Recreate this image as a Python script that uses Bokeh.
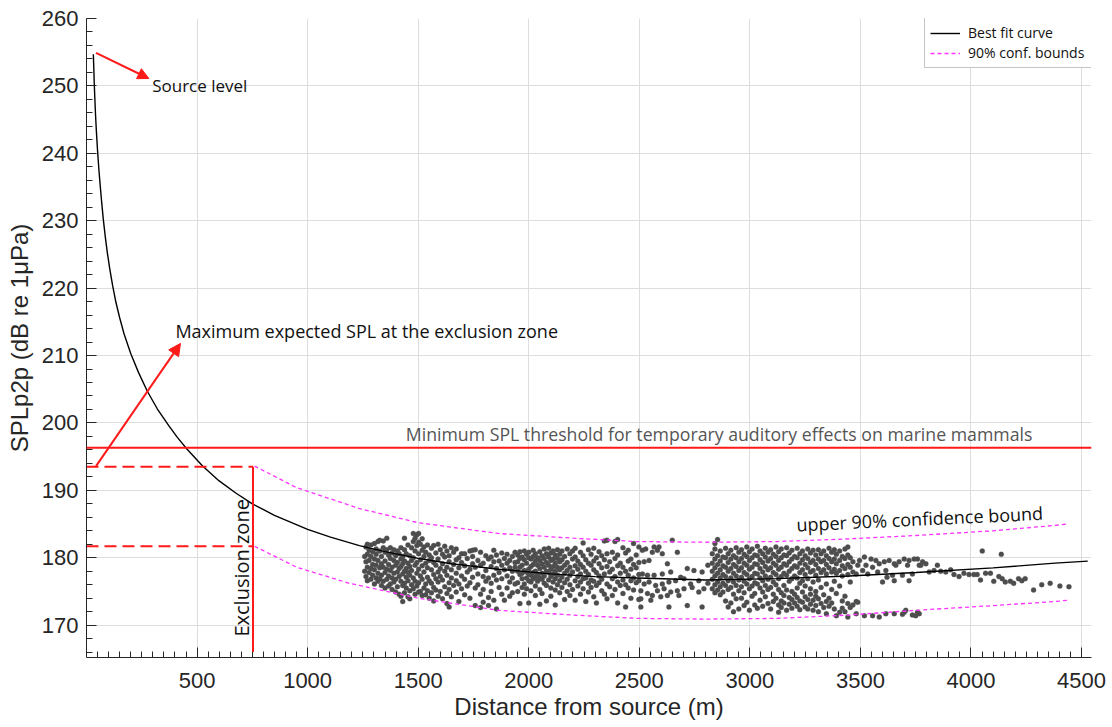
from bokeh.plotting import figure
from bokeh.models import Range1d, FixedTicker, Label, Arrow, NormalHead, Span, Legend, LegendItem
from bokeh.embed import file_html
from bokeh.resources import INLINE

# ---------------- data ----------------
fit_x = [31, 33, 35, 38, 41, 45, 50, 56, 62, 69, 76, 85, 94, 105, 118, 133, 150, 170, 200, 235,
         275, 320, 372, 410, 455, 525, 600, 675, 750, 850, 1000, 1100, 1234, 1350, 1500, 1650,
         1863, 2100, 2300, 2492, 2800, 3121, 3450, 3751, 4100, 4380, 4528]
fit_y = [254.7, 252.6, 250.4, 247.9, 245.6, 243.1, 240.4, 237.6, 235.2, 232.6, 230.2, 227.6,
         225.3, 222.9, 220.4, 217.9, 215.6, 213.2, 210.3, 207.5, 204.7, 202.1, 199.6, 197.9,
         196.1, 193.6, 191.4, 189.6, 188.0, 186.3, 184.2, 183.1, 181.8, 180.9, 179.9, 179.1,
         178.3, 177.6, 177.2, 177.0, 176.7, 176.9, 177.3, 177.8, 178.5, 179.2, 179.5]

bound_x = [760, 950, 1189, 1234, 1500, 1863, 2200, 2492, 2800, 3121, 3450, 3751, 4100, 4380, 4437]
upper_y = [193.6, 190.4, 187.8, 187.3, 185.2, 183.6, 182.9, 182.4, 182.3, 182.4, 182.8, 183.3,
           184.0, 184.8, 185.0]
lower_y = [181.7, 178.6, 176.2, 175.9, 174.0, 172.2, 171.5, 171.0, 170.9, 171.0, 171.5, 172.2,
           172.9, 173.5, 173.7]

# measured SPL points, grouped by distance (m): (distance, [SPL values])
scatter_columns = [
    (1258, [180.2, 178.0]),
    (1264, [181.6, 179.4, 177.2]),
    (1270, [182.0, 180.5, 178.6, 176.6]),
    (1278, [181.1, 179.6, 177.8]),
    (1286, [181.9, 180.2, 178.4, 176.8]),
    (1294, [180.9, 179.0, 177.4]),
    (1302, [182.1, 179.8, 178.2, 176.1]),
    (1310, [181.3, 180.5, 178.9, 177.0]),
    (1318, [182.4, 179.6, 177.7, 176.5]),
    (1326, [182.6, 181.0, 178.5, 176.9]),
    (1334, [180.2, 179.1, 177.4, 175.9]),
    (1342, [182.5, 181.5, 178.6, 176.5]),
    (1350, [180.8, 179.5, 177.8, 175.5]),
    (1358, [182.9, 181.2, 178.3, 176.8]),
    (1366, [180.4, 179.0, 177.3, 175.8]),
    (1374, [181.5, 179.9, 178.1, 176.1]),
    (1382, [180.7, 178.6, 177.0, 175.3]),
    (1390, [181.2, 179.6, 177.7, 176.4]),
    (1398, [180.3, 178.9, 176.8, 174.9]),
    (1406, [181.0, 179.3, 177.9, 175.7]),
    (1414, [180.6, 178.4, 177.2, 174.6]),
    (1422, [181.5, 179.8, 178.7, 176.5, 174.3]),
    (1430, [180.2, 179.1, 177.6, 175.9, 173.5]),
    (1438, [182.9, 181.2, 179.5, 178.0, 176.2, 174.8]),
    (1446, [180.6, 178.4, 177.1, 175.5]),
    (1454, [181.9, 179.2, 177.8, 176.6, 174.2]),
    (1462, [180.3, 178.7, 177.4, 175.1, 173.9]),
    (1470, [181.5, 179.6, 178.1, 176.0]),
    (1478, [183.6, 182.4, 180.0, 177.0, 175.4]),
    (1486, [182.9, 181.0, 178.9, 176.5, 174.6]),
    (1494, [183.4, 181.8, 179.3, 177.7, 175.8]),
    (1502, [183.6, 182.3, 180.6, 178.3, 176.3, 174.9]),
    (1510, [182.0, 179.7, 177.3, 175.0]),
    (1518, [182.8, 181.1, 178.8, 176.8, 174.4]),
    (1526, [181.6, 180.2, 177.9, 175.5]),
    (1534, [180.8, 179.2, 176.1, 174.5]),
    (1542, [181.9, 178.5, 177.1, 175.1]),
    (1550, [180.4, 179.6, 176.6, 174.0]),
    (1560, [181.4, 180.0, 178.2, 176.2, 174.8]),
    (1570, [181.8, 179.3, 177.5, 175.6, 173.6]),
    (1580, [180.7, 178.9, 176.9, 175.2]),
    (1590, [182.0, 179.8, 177.9, 176.4, 174.3]),
    (1600, [181.2, 178.4, 177.2, 175.0]),
    (1610, [180.5, 179.1, 176.7, 173.9]),
    (1620, [181.7, 180.1, 178.0, 175.7]),
    (1630, [181.0, 178.6, 177.4, 174.7, 173.2]),
    (1640, [180.3, 179.4, 176.3, 175.3, 172.7]),
    (1650, [181.5, 178.2, 177.0, 174.2]),
    (1660, [180.8, 179.0, 175.9]),
    (1672, [181.3, 179.7, 177.7, 176.6, 174.9]),
    (1684, [180.0, 178.5, 176.1, 173.5]),
    (1696, [180.6, 179.3, 177.3, 175.4]),
    (1710, [180.6, 178.8, 176.8, 174.5]),
    (1722, [179.9, 177.9, 175.8]),
    (1734, [181.0, 178.3, 176.3, 174.0]),
    (1746, [181.1, 180.2, 179.1, 177.1]),
    (1758, [181.2, 178.6, 175.5, 172.9]),
    (1770, [179.6, 177.6, 176.0]),
    (1782, [180.8, 178.9, 174.6, 172.6]),
    (1794, [179.2, 177.2, 175.3, 173.4]),
    (1806, [180.3, 178.1, 176.5]),
    (1818, [179.8, 177.0, 174.1, 172.9]),
    (1830, [180.1, 178.7, 176.2, 175.0]),
    (1842, [181.1, 179.4, 177.4, 173.7]),
    (1854, [180.4, 178.4, 176.7, 172.4]),
    (1866, [179.5, 177.8, 175.6]),
    (1878, [180.7, 178.9, 176.9, 174.6]),
    (1890, [179.9, 178.2, 173.7]),
    (1902, [180.5, 179.2, 177.3, 175.5]),
    (1914, [179.6, 178.5, 176.4, 174.3]),
    (1926, [180.2, 178.0, 177.0, 174.8]),
    (1938, [180.8, 179.3, 178.6, 176.1]),
    (1950, [180.4, 179.4, 178.0, 176.3, 175.0]),
    (1960, [180.9, 179.9, 178.6, 177.5, 173.2]),
    (1970, [180.1, 178.9, 177.7, 176.9, 175.6]),
    (1980, [181.0, 179.7, 178.1, 176.1, 174.6]),
    (1990, [180.5, 179.2, 177.9, 177.0, 175.4]),
    (2000, [180.8, 180.0, 178.3, 177.6, 176.6, 173.3]),
    (2010, [179.8, 178.7, 177.4, 176.4, 175.1]),
    (2020, [181.1, 180.2, 179.0, 177.8, 176.9]),
    (2030, [180.6, 179.5, 178.0, 177.1, 175.8, 174.4]),
    (2040, [180.0, 178.9, 177.6, 176.5]),
    (2050, [180.9, 179.6, 178.4, 177.0, 175.3, 173.1]),
    (2060, [180.3, 179.1, 177.7, 176.8, 174.7]),
    (2070, [181.3, 179.9, 178.6, 177.3, 176.2]),
    (2080, [180.6, 179.3, 178.0, 175.9, 173.6]),
    (2090, [181.4, 180.1, 178.9, 177.8, 176.7]),
    (2100, [180.7, 179.6, 178.3, 177.2, 175.5, 174.3]),
    (2110, [181.0, 179.8, 178.7, 177.6, 176.4]),
    (2120, [180.4, 179.2, 178.0, 176.9, 175.2, 173.0]),
    (2130, [181.2, 179.9, 178.6, 177.4, 176.0]),
    (2140, [180.5, 179.4, 178.2, 176.6, 174.8]),
    (2150, [181.0, 179.7, 178.5, 177.1, 175.6]),
    (2162, [180.2, 178.9, 177.7, 176.3, 173.8]),
    (2174, [181.3, 179.3, 178.1, 176.8, 175.0]),
    (2186, [180.6, 178.6, 177.4, 176.0, 174.4]),
    (2198, [181.0, 179.8, 177.9, 175.3]),
    (2210, [181.4, 180.1, 178.8, 176.6, 173.7]),
    (2222, [179.5, 178.3, 177.2, 175.8]),
    (2234, [180.8, 179.0, 177.6, 176.4, 174.6]),
    (2246, [182.2, 180.3, 178.6, 176.9, 175.4]),
    (2258, [179.7, 178.0, 177.0, 173.5]),
    (2270, [181.2, 179.2, 177.5, 176.2, 174.9]),
    (2282, [180.5, 178.9, 176.7, 175.6]),
    (2294, [181.4, 179.5, 178.2, 176.5, 174.2]),
    (2306, [180.0, 177.8, 175.9, 173.3]),
    (2318, [180.9, 179.1, 177.3, 176.3]),
    (2330, [180.3, 178.5, 176.8, 175.1]),
    (2342, [182.5, 179.7, 177.6, 174.6]),
    (2354, [182.6, 180.6, 178.7, 176.1, 173.9]),
    (2366, [179.4, 177.9, 175.7]),
    (2378, [180.8, 178.3, 176.9, 174.4]),
    (2390, [182.4, 179.9, 177.2, 175.3]),
    (2402, [182.7, 180.4, 178.8, 176.4, 173.3]),
    (2414, [179.2, 177.7, 175.9]),
    (2426, [181.5, 178.6, 176.7, 174.7]),
    (2438, [180.7, 178.0, 176.0, 172.7]),
    (2450, [181.1, 179.5, 177.4, 175.5]),
    (2462, [179.8, 178.3, 176.6, 174.0]),
    (2474, [182.1, 179.0, 177.0, 175.2]),
    (2486, [180.4, 178.5, 176.3]),
    (2498, [181.6, 179.3, 177.5, 176.6, 173.8]),
    (2507, [175.1, 173.9, 172.7]),
    (2514, [181.1, 177.6]),
    (2522, [179.4, 176.1]),
    (2529, [181.3]),
    (2537, [177.4, 174.7]),
    (2544, [179.6, 176.4]),
    (2552, [173.7]),
    (2559, [180.8, 174.4]),
    (2567, [181.6, 177.4]),
    (2574, [175.9]),
    (2582, [181.1, 175.1]),
    (2589, [181.6]),
    (2597, [174.2]),
    (2604, [180.6, 177.6, 176.1]),
    (2612, [175.4]),
    (2627, [179.1, 174.4]),
    (2634, [176.4, 172.7]),
    (2642, [177.9, 174.9]),
    (2649, [182.6]),
    (2664, [176.6]),
    (2672, [180.8, 175.1]),
    (2679, [174.4]),
    (2687, [177.1]),
    (2702, [176.9, 175.4]),
    (2717, [178.4, 172.9]),
    (2732, [176.1]),
    (2739, [175.6]),
    (2747, [178.1]),
    (2769, [176.6, 174.9]),
    (2784, [177.9, 172.7]),
    (2792, [175.4]),
    (2810, [178.9, 176.2]),
    (2830, [180.6, 179.2, 178.0, 176.8, 175.4]),
    (2842, [182.1, 181.3, 179.8, 178.5, 177.3, 176.0, 174.8]),
    (2854, [182.7, 180.3, 179.0, 177.7, 176.4, 175.2]),
    (2866, [181.0, 179.5, 178.2, 177.0, 175.7, 174.5]),
    (2878, [180.1, 178.8, 177.5, 176.2, 174.9]),
    (2890, [181.4, 180.0, 178.6, 177.2, 175.9, 173.6]),
    (2902, [180.6, 179.3, 178.0, 176.6, 175.3, 172.7]),
    (2914, [181.1, 179.8, 178.4, 177.0, 175.6, 173.3]),
    (2926, [180.3, 179.0, 177.7, 176.4, 174.6, 172.0]),
    (2938, [181.5, 180.0, 178.7, 177.3, 175.9, 173.9]),
    (2950, [180.8, 179.4, 178.1, 176.7, 175.1, 172.4]),
    (2962, [181.2, 179.9, 178.5, 177.1, 175.7, 174.0]),
    (2974, [180.5, 179.2, 177.8, 176.5, 174.8, 172.9]),
    (2986, [181.6, 180.2, 178.9, 177.5, 176.1, 173.4]),
    (2998, [180.9, 179.6, 178.3, 176.9, 175.4, 172.2]),
    (3010, [181.3, 180.0, 178.6, 177.2, 175.8, 174.3]),
    (3022, [180.4, 179.1, 177.7, 176.3, 174.7, 173.0]),
    (3034, [181.7, 180.3, 179.0, 177.6, 176.1, 172.5]),
    (3046, [181.0, 179.7, 178.4, 177.0, 175.5, 173.7]),
    (3058, [180.6, 179.3, 177.9, 176.6, 174.9, 172.8]),
    (3070, [181.4, 180.1, 178.7, 177.3, 175.9, 174.2]),
    (3082, [180.8, 179.5, 178.2, 176.8, 175.3, 173.2]),
    (3094, [181.2, 179.9, 178.5, 177.1, 175.6, 172.4]),
    (3106, [180.5, 179.2, 177.8, 176.4, 174.6, 173.5]),
    (3118, [181.6, 180.2, 178.9, 177.5, 176.0, 174.0]),
    (3130, [180.9, 179.6, 178.3, 176.9, 175.3, 173.0, 171.9]),
    (3142, [181.3, 180.0, 178.6, 177.2, 174.8, 173.6, 172.6]),
    (3154, [180.4, 179.1, 177.7, 175.9, 174.4, 173.3]),
    (3166, [181.5, 180.3, 178.9, 177.4, 175.2, 172.2]),
    (3178, [180.7, 179.4, 178.0, 176.5, 174.1, 173.1]),
    (3190, [181.1, 179.8, 178.4, 176.9, 175.0, 173.8, 172.5]),
    (3202, [180.2, 178.8, 177.3, 174.6, 173.3]),
    (3214, [181.4, 180.0, 178.6, 177.0, 175.5, 174.1, 172.8]),
    (3226, [180.6, 179.2, 177.8, 176.2, 173.6, 172.3]),
    (3238, [181.0, 179.7, 178.2, 176.6, 174.9, 173.4]),
    (3250, [180.3, 179.0, 177.5, 175.8, 174.2, 172.7]),
    (3262, [181.3, 179.9, 178.5, 176.9, 173.8, 172.4]),
    (3274, [180.7, 179.3, 177.9, 175.4, 174.6, 173.1]),
    (3286, [181.1, 179.6, 178.1, 176.4, 173.7, 172.2]),
    (3298, [180.4, 179.0, 177.4, 175.0, 174.3, 172.9]),
    (3310, [181.2, 179.8, 178.4, 176.7, 173.9, 172.0]),
    (3322, [180.6, 179.4, 177.8, 175.6, 173.2]),
    (3334, [181.0, 179.6, 178.2, 174.5, 172.6]),
    (3346, [180.3, 179.0, 177.6, 176.1, 173.5, 171.7]),
    (3358, [181.4, 179.9, 178.5, 174.0, 172.8]),
    (3370, [180.8, 179.4, 177.9, 175.3, 173.3]),
    (3382, [181.2, 179.8, 178.3, 176.5, 172.4]),
    (3391, [180.5, 179.1, 177.7, 174.7, 171.4]),
    (3406, [181.0, 179.6, 178.1, 175.8, 171.9]),
    (3418, [180.2, 178.8, 177.3, 173.6, 172.5]),
    (3430, [181.3, 179.9, 178.4, 174.3, 172.0]),
    (3443, [181.6, 180.4, 179.0, 177.5, 173.2, 171.2]),
    (3454, [180.0, 178.6, 176.4, 172.6]),
    (3466, [179.4, 177.9, 173.0]),
    (3481, [177.6, 173.5, 171.7]),
    (3488, [178.9, 173.4]),
    (3496, [179.6]),
    (3510, [178.1]),
    (3518, [180.1, 171.4]),
    (3525, [178.9]),
    (3533, [177.6]),
    (3548, [179.8]),
    (3555, [178.6, 171.4]),
    (3570, [179.6]),
    (3578, [177.9]),
    (3585, [179.1, 171.2]),
    (3600, [176.4]),
    (3608, [179.4]),
    (3615, [178.1, 171.7]),
    (3620, [177.1]),
    (3630, [179.6]),
    (3645, [177.4]),
    (3653, [179.1, 176.6, 171.7]),
    (3660, [178.9]),
    (3675, [179.4]),
    (3690, [177.4, 171.6]),
    (3698, [179.8, 171.9]),
    (3705, [172.2]),
    (3713, [178.9]),
    (3720, [179.6, 176.6]),
    (3735, [177.6, 171.5]),
    (3743, [179.8]),
    (3750, [171.4]),
    (3758, [179.8, 171.9]),
    (3766, [178.9, 171.7]),
    (3773, [178.9]),
    (3781, [179.4]),
    (3796, [179.1]),
    (3811, [177.9]),
    (3833, [178.1]),
    (3848, [178.9]),
    (3863, [178.0]),
    (3886, [177.9]),
    (3908, [178.2]),
    (3923, [177.5]),
    (3946, [177.2]),
    (3968, [177.7]),
    (3991, [177.5]),
    (4013, [177.5]),
    (4028, [177.5]),
    (4043, [176.7]),
    (4051, [181.0]),
    (4066, [177.7]),
    (4088, [177.7]),
    (4103, [176.5]),
    (4126, [177.2]),
    (4137, [180.5]),
    (4141, [176.9]),
    (4155, [176.4]),
    (4178, [176.5]),
    (4193, [176.2]),
    (4215, [176.9]),
    (4230, [176.6]),
    (4245, [176.9]),
    (4283, [175.2]),
    (4320, [176.0]),
    (4358, [176.2]),
    (4402, [175.8]),
    (4443, [175.7]),
]

threshold_db = 196.3
exclusion_zone_m = 753
exclusion_upper_db = 193.5
exclusion_lower_db = 181.7

x_ticks = [500, 1000, 1500, 2000, 2500, 3000, 3500, 4000, 4500]
y_ticks = [170, 180, 190, 200, 210, 220, 230, 240, 250, 260]

scatter_x = [d for d, ys in scatter_columns for _ in ys]
scatter_y = [v for d, ys in scatter_columns for v in ys]

# ---------------- figure ----------------
X0, X1 = 0, 4545
Y0, Y1 = 165.2, 260

p = figure(frame_width=1005, frame_height=639, output_backend="svg", toolbar_location=None,
           x_range=Range1d(X0, X1), y_range=Range1d(Y0, Y1),
           min_border_left=86, min_border_right=17, min_border_top=18, min_border_bottom=68,
           background_fill_color="white", border_fill_color="white")
p.outline_line_color = None

AX = "#262626"
for ax in (p.xaxis[0], p.yaxis[0]):
    ax.axis_line_color = AX
    ax.axis_line_width = 1
    ax.major_tick_line_color = AX
    ax.minor_tick_line_color = AX
    ax.major_tick_in = 10
    ax.major_tick_out = 0
    ax.minor_tick_in = 6
    ax.minor_tick_out = 0
    ax.major_label_text_font = "Liberation Sans"
    ax.major_label_text_font_size = "22px"
    ax.major_label_text_color = AX
    ax.axis_label_text_font = "Liberation Sans"
    ax.axis_label_text_font_size = "24px"
    ax.axis_label_text_font_style = "normal"
    ax.axis_label_text_color = AX

p.xaxis[0].ticker = FixedTicker(ticks=x_ticks, minor_ticks=list(range(50, 4550, 50)))
p.yaxis[0].ticker = FixedTicker(ticks=y_ticks, minor_ticks=list(range(166, 261, 2)))
p.xaxis[0].major_label_standoff = 15
p.yaxis[0].major_label_standoff = 8
p.xaxis[0].axis_label_standoff = 2
p.yaxis[0].axis_label_standoff = 6
p.xaxis[0].axis_label = "Distance from source (m)"
p.yaxis[0].axis_label = "SPLp2p (dB re 1μPa)"

p.xgrid[0].ticker = FixedTicker(ticks=x_ticks)
p.ygrid[0].ticker = FixedTicker(ticks=y_ticks)
p.grid.grid_line_color = "#dedede"
p.grid.grid_line_width = 1

# scatter data
p.scatter(scatter_x, scatter_y, size=5, fill_color="#4d4d4d", line_color="#4d4d4d",
          line_width=0.3)

# confidence bounds
r_up = p.line(bound_x, upper_y, line_color="#ff33ff", line_width=1.3, line_dash="4 3")
p.line(bound_x, lower_y, line_color="#ff33ff", line_width=1.3, line_dash="4 3")

# best fit
r_fit = p.line(fit_x, fit_y, line_color="black", line_width=1.4)

# threshold line
p.add_layout(Span(location=threshold_db, dimension="width", line_color="#ff1a1a", line_width=2))

# exclusion-zone lines
p.segment(x0=[X0, X0], y0=[exclusion_upper_db, exclusion_lower_db],
          x1=[exclusion_zone_m, exclusion_zone_m], y1=[exclusion_upper_db, exclusion_lower_db],
          line_color="#ff1a1a", line_width=2, line_dash="12 6")
p.segment(x0=[exclusion_zone_m], y0=[exclusion_upper_db], x1=[exclusion_zone_m], y1=[166.0],
          line_color="#ff1a1a", line_width=2)

# arrows
p.add_layout(Arrow(end=NormalHead(size=11, fill_color="#ff1a1a", line_color="#ff1a1a"),
                   x_start=43, y_start=254.9, x_end=282, y_end=251.1,
                   line_color="#ff1a1a", line_width=2))
p.add_layout(Arrow(end=NormalHead(size=12, fill_color="#ff1a1a", line_color="#ff1a1a"),
                   x_start=43, y_start=exclusion_upper_db + 0.1, x_end=425, y_end=211.8,
                   line_color="#ff1a1a", line_width=2))

# annotation texts
FONT = "Open Sans"
p.add_layout(Label(x=297, y=250.1, text="Source level", text_font=FONT,
                   text_font_size="17px", text_color="#111111",
                   text_baseline="middle", text_align="left"))
p.add_layout(Label(x=402, y=213.6, text="Maximum expected SPL at the exclusion zone",
                   text_font=FONT, text_font_size="18px", text_color="#111111",
                   text_baseline="middle", text_align="left"))
p.add_layout(Label(x=1444, y=198.4,
                   text="Minimum SPL threshold for temporary auditory effects on marine mammals",
                   text_font=FONT, text_font_size="17.7px", text_color="#555555",
                   text_baseline="middle", text_align="left"))
p.add_layout(Label(x=699, y=178.5, text="Exclusion zone", angle=90, angle_units="deg",
                   text_font=FONT, text_font_size="20px", text_color="#111111",
                   text_baseline="middle", text_align="center"))
p.add_layout(Label(x=3768, y=185.8, text="upper 90% confidence bound", angle=2.7,
                   angle_units="deg", text_font=FONT, text_font_size="18px",
                   text_color="#111111", text_baseline="middle", text_align="center"))

legend = Legend(items=[LegendItem(label="Best fit curve", renderers=[r_fit]),
                       LegendItem(label="90% conf. bounds", renderers=[r_up])],
                location=(838, 589), padding=5, spacing=1,
                label_text_font=FONT, label_text_font_size="14px", label_text_color="#111111",
                label_height=16, glyph_height=16, glyph_width=30, label_standoff=8,
                label_width=124,
                border_line_color="#8c8c8c", border_line_width=1,
                background_fill_color="white", background_fill_alpha=1)
p.add_layout(legend)

open("out.html", "w").write(file_html(p, INLINE))
